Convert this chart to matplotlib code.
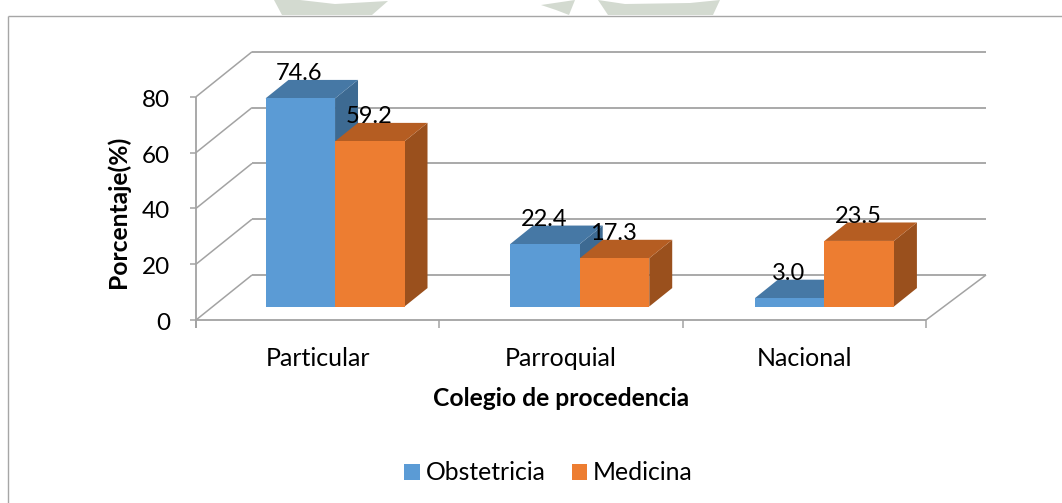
import matplotlib
matplotlib.use('Agg')
import matplotlib.pyplot as plt
from matplotlib.patches import Patch, Polygon

categories = ['Particular', 'Parroquial', 'Nacional']
series_names = ['Obstetricia', 'Medicina']
obstetricia = [74.6, 22.4, 3.0]
medicina = [59.2, 17.3, 23.5]
y_ticks = [0, 20, 40, 60, 80]

plt.rcParams['font.family'] = ['Lato', 'DejaVu Sans']

# size of one category and one percent on the figure, in pixels
W, H = 1062, 503
CAT_PX = 244.7
VAL_PX = 2.79
X0, Y0 = 196, 320
AXIS_END = 730 / CAT_PX

# oblique depth: back wall is this far from the front plane
DEPTH_X = 56 / CAT_PX
DEPTH_Y = 45 / VAL_PX
BAR_W = 69.5 / CAT_PX
BAR_SHIFT = 16.7 / CAT_PX
BAR_FRONT, BAR_BACK = 0.30, 0.71

GRID = '#a3a3a3'
front = ['#5b9bd5', '#ed7d31']
top = ['#4678a5', '#b55d22']
side = ['#3d6a92', '#9a501d']


def px(x, y):
    # figure pixels to data, for text and decoration
    return (x - X0) / CAT_PX, (Y0 - y) / VAL_PX


def line(p, q, lw=1.2, color=GRID):
    ax.plot([p[0], q[0]], [p[1], q[1]], color=color, lw=lw, zorder=1, solid_capstyle='butt')


fig = plt.figure(figsize=(W / 100, H / 100), dpi=100)
ax = fig.add_axes([0, 0, 1, 1])
ax.set_xlim(-X0 / CAT_PX, (W - X0) / CAT_PX)
ax.set_ylim(-(H - Y0) / VAL_PX, Y0 / VAL_PX)
ax.axis('off')

# faint watermark showing above the chart frame
for shape in [[(274, 0), (300, 0), (335, 4), (388, 1), (372, 15), (282, 15)],
              [(541, 5), (575, 0), (569, 15), (556, 10)],
              [(598, 0), (625, 4), (690, 3), (720, 0), (713, 15), (608, 15)]]:
    ax.add_patch(Polygon([px(*p) for p in shape], fc='#d3dad0', ec='none', zorder=0))

# chart frame
line(px(8, H), px(8, 16), lw=1.0, color='#a6a6a6')
line(px(8, 16), px(W, 16), lw=1.0, color='#a6a6a6')

# walls and gridlines
for t in y_ticks:
    line((0, t), (DEPTH_X, t + DEPTH_Y), lw=1.1)
    line((DEPTH_X, t + DEPTH_Y), (AXIS_END + 60 / CAT_PX, t + DEPTH_Y), lw=1.3)
    line((-6 / CAT_PX, t), (0, t), lw=1.1)
    ax.text(-26 / CAT_PX, t - 1.5 / VAL_PX, str(t), ha='right', va='center_baseline', fontsize=17.5, color='black')

line((0, -8 / VAL_PX), (0, y_ticks[-1]), lw=1.3)
line((0, 0), (AXIS_END, 0), lw=1.3)
line((AXIS_END, 0), (AXIS_END + 60 / CAT_PX, DEPTH_Y), lw=1.1)
for i in range(len(categories) + 1):
    tx = i * AXIS_END / len(categories)
    line((tx, 0), (tx, -8 / VAL_PX), lw=1.1)

# bars, left to right so the nearer faces cover the sides
series = [obstetricia, medicina]
dx = (BAR_BACK - BAR_FRONT) * DEPTH_X
dy = (BAR_BACK - BAR_FRONT) * DEPTH_Y
base = BAR_FRONT * DEPTH_Y
for i in range(len(categories)):
    for s, vals in enumerate(series):
        x1 = i + 0.5 + (s - 1) * BAR_W + BAR_SHIFT
        x2 = x1 + BAR_W
        h = base + vals[i]
        z = 2 + i + s * 0.1
        ax.add_patch(Polygon([(x2, base), (x2, h), (x2 + dx, h + dy), (x2 + dx, base + dy)],
                             fc=side[s], ec='none', zorder=z))
        ax.add_patch(Polygon([(x1, h), (x2, h), (x2 + dx, h + dy), (x1 + dx, h + dy)],
                             fc=top[s], ec='none', zorder=z))
        ax.add_patch(Polygon([(x1, base), (x2, base), (x2, h), (x1, h)],
                             fc=front[s], ec='none', zorder=z + 0.05))
        ax.text((x1 + x2) / 2 - 1 / CAT_PX, h + 18 / VAL_PX, '%.1f' % vals[i], ha='center', va='baseline',
                fontsize=17, color='black', zorder=10)

# category labels and titles
for i, c in enumerate(categories):
    ax.text((i + 0.5) * AXIS_END / len(categories), -38 / VAL_PX, c, ha='center', va='center',
            fontsize=18, color='black')
ax.text(0.5 * AXIS_END, -78 / VAL_PX, 'Colegio de procedencia', ha='center', va='center',
        fontsize=17.7, fontweight='bold', color='black')
ax.text(-78 / CAT_PX, 108 / VAL_PX, 'Porcentaje(%)', rotation=90, ha='center', va='center',
        fontsize=17.7, fontweight='bold', color='black')

handles = [Patch(fc=front[0], label=series_names[0]), Patch(fc=front[1], label=series_names[1])]
ax.legend(handles=handles, loc='center', bbox_to_anchor=(548.5 / W, 1 - 473 / H), ncol=2,
          frameon=False, fontsize=17.8, handlelength=0.62, handleheight=0.62, handletextpad=0.25,
          columnspacing=1.05, labelcolor='black')

fig.savefig('out.png', dpi=100)
